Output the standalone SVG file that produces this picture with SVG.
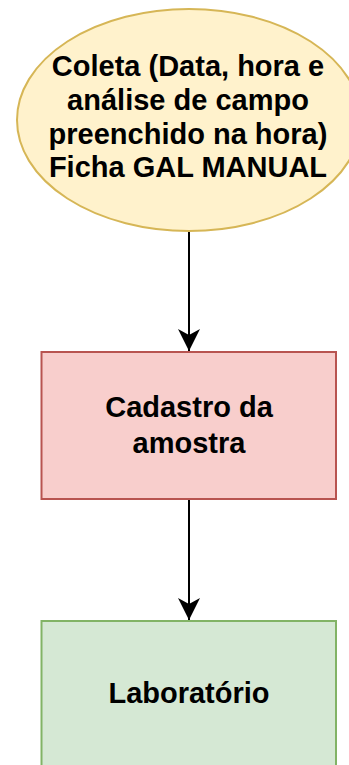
<svg xmlns="http://www.w3.org/2000/svg" width="349" height="765" viewBox="0 0 349 765">
<defs>
<style>
.t{font-family:"Liberation Sans",Arial,Helvetica,sans-serif;font-weight:bold;font-size:29px;fill:#000;text-anchor:middle}
.e{stroke:#000;stroke-width:2;fill:none}
</style>
<marker id="arr" markerUnits="userSpaceOnUse" markerWidth="24" markerHeight="24" viewBox="0 0 24 24" refX="22" refY="12" orient="auto">
<path d="M0,1 L22,12 L0,23 L6,12 Z" fill="#000"/>
</marker>
</defs>
<rect width="349" height="765" fill="#fff"/>
<g id="connectors">
<path class="e" d="M189,231 L189,351" marker-end="url(#arr)"/>
<path class="e" d="M189,499 L189,620" marker-end="url(#arr)"/>
</g>
<g id="coleta">
<ellipse cx="189" cy="120" rx="172" ry="111" fill="#fff2cc" stroke="#d6b656" stroke-width="2"/>
<text class="t" x="188" y="76">Coleta (Data, hora e</text>
<text class="t" x="188" y="110">análise de campo</text>
<text class="t" x="188" y="144">preenchido na hora)</text>
<text class="t" x="188" y="177">Ficha GAL MANUAL</text>
</g>
<g id="cadastro">
<rect x="41.5" y="352" width="294.5" height="147" fill="#f8cecc" stroke="#b85450" stroke-width="2"/>
<text class="t" x="189" y="417">Cadastro da</text>
<text class="t" x="189" y="453">amostra</text>
</g>
<g id="laboratorio">
<rect x="41.5" y="621" width="294.5" height="160" fill="#d5e8d4" stroke="#82b366" stroke-width="2"/>
<text class="t" x="189" y="703">Laboratório</text>
</g>
</svg>
